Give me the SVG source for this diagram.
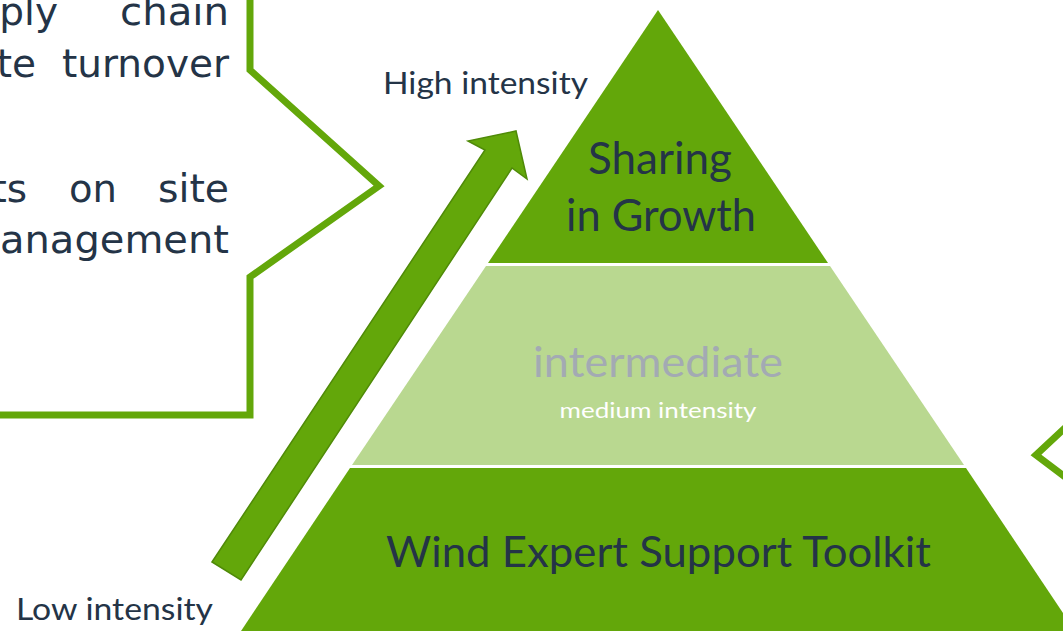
<svg xmlns="http://www.w3.org/2000/svg" width="1063" height="631" viewBox="0 0 1063 631">
  <defs>
    <style>
      .callout { fill: #FFFFFF; stroke: #63A70A; stroke-width: 7; stroke-linejoin: miter; stroke-miterlimit: 10; }
      .body { font-family: "DejaVu Sans", sans-serif; font-size: 39px; fill: #243447; }
      .tier { fill: #63A70A; }
      .tier-light { fill: #B9D890; }
      .label { font-family: Lato, "Liberation Sans", sans-serif; fill: #243447; }
      .arrow { fill: #63A70A; stroke: #4F8A08; stroke-width: 1.5; stroke-linejoin: miter; }
    </style>
  </defs>
  <rect width="1063" height="631" fill="#FFFFFF"/>

  <g id="left-callout">
    <polygon class="callout" points="-20,-20 250,-20 250,70 379,186 250,277 250,415 -20,415"/>
    <text class="body" x="58" y="25" text-anchor="end">pply</text>
    <text class="body" x="229" y="25" text-anchor="end" textLength="109" lengthAdjust="spacingAndGlyphs">chain</text>
    <text class="body" x="36" y="77" text-anchor="end">te</text>
    <text class="body" x="229" y="77" text-anchor="end" textLength="167" lengthAdjust="spacingAndGlyphs">turnover</text>
    <text class="body" x="27" y="202" text-anchor="end">ts</text>
    <text class="body" x="69" y="202" textLength="48" lengthAdjust="spacingAndGlyphs">on</text>
    <text class="body" x="229" y="202" text-anchor="end" textLength="71" lengthAdjust="spacingAndGlyphs">site</text>
    <text class="body" x="229" y="253" text-anchor="end" textLength="229" lengthAdjust="spacingAndGlyphs">anagement</text>
  </g>

  <g id="right-callout">
    <polygon class="callout" points="1080,414 1036,455 1080,488"/>
  </g>

  <g id="tier-top">
    <polygon class="tier" points="658,10 828,263 488,263"/>
    <text class="label" x="660" y="174" text-anchor="middle" font-size="44" textLength="144" lengthAdjust="spacingAndGlyphs">Sharing</text>
    <text class="label" x="661" y="231" text-anchor="middle" font-size="44" textLength="190" lengthAdjust="spacingAndGlyphs">in Growth</text>
  </g>

  <g id="tier-middle">
    <polygon class="tier-light" points="486,266 830,266 964,465 352,465"/>
    <text class="label" x="658" y="377" text-anchor="middle" font-size="42" fill="#A3AAB3" style="fill:#A3AAB3" textLength="250" lengthAdjust="spacingAndGlyphs">intermediate</text>
    <text class="label" x="658" y="418" text-anchor="middle" font-size="22" style="fill:#FFFFFF" textLength="197" lengthAdjust="spacingAndGlyphs">medium intensity</text>
  </g>

  <g id="tier-bottom">
    <polygon class="tier" points="350,468 966,468 1081,640 235,640"/>
    <text class="label" x="658.5" y="567" text-anchor="middle" font-size="42" textLength="545" lengthAdjust="spacingAndGlyphs">Wind Expert Support Toolkit</text>
  </g>

  <g id="connectors">
    <polygon class="arrow" points="212,562 485,150 468,141 516,131 527,179 512,168 241,580"/>
  </g>

  <g id="axis-labels">
    <text class="label" x="383" y="94" font-size="30" textLength="205" lengthAdjust="spacingAndGlyphs">High intensity</text>
    <text class="label" x="16" y="620" font-size="30" textLength="197" lengthAdjust="spacingAndGlyphs">Low intensity</text>
  </g>
</svg>
